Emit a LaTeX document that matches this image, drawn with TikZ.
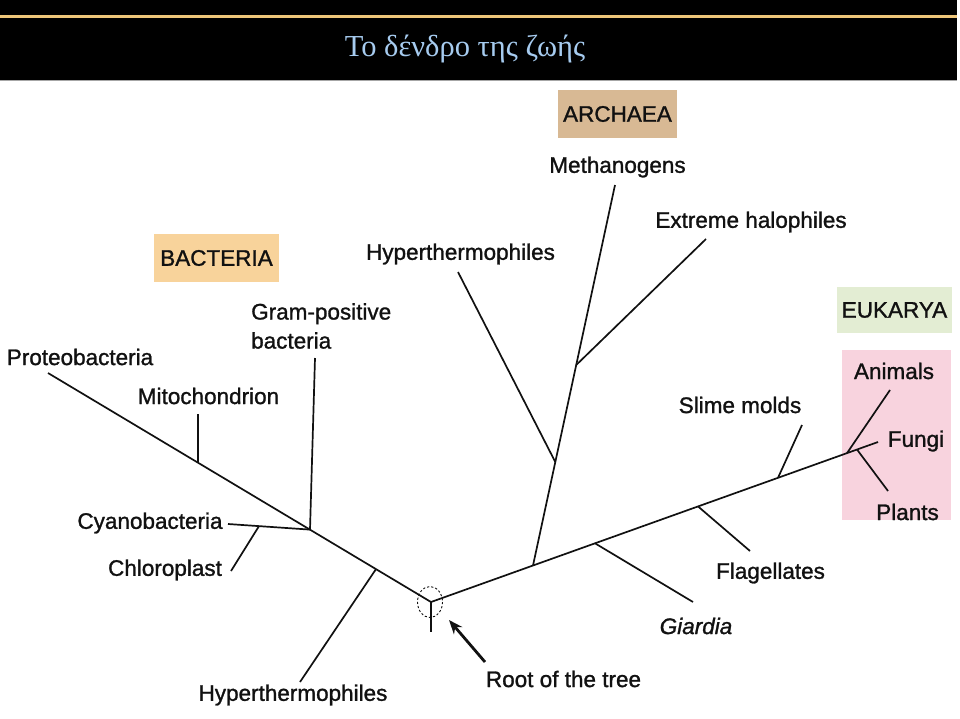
\documentclass[tikz,border=0pt]{standalone}
\usepackage{fontspec}
\setmainfont{Liberation Sans}[FakeBold=1.2]
\newfontfamily\lblfont{Liberation Sans}[FakeBold=1.2]
\newfontfamily\titlefont{Liberation Serif}
\usetikzlibrary{arrows.meta}
\definecolor{goldline}{HTML}{EEC67A}
\definecolor{titleblue}{HTML}{A6CBEF}
\definecolor{bactfill}{HTML}{F8D39B}
\definecolor{archfill}{HTML}{D8B994}
\definecolor{eukfill}{HTML}{E3EDD3}
\definecolor{pinkfill}{HTML}{F8D3DE}
\definecolor{ink}{HTML}{111111}
\tikzset{
  lbl/.style={font=\lblfont\fontsize{22.5}{29}\selectfont, text=ink, inner sep=0pt},
  domainbox/.style={lbl, inner sep=0pt, minimum height=48pt},
  branch/.style={draw=ink, line width=1.7pt},
}
\begin{document}
\begin{tikzpicture}[x=1pt,y=-1pt]
\useasboundingbox (0,0) rectangle (960,718);
% header
\fill[black] (0,0) rectangle (957,80);
\draw[gray!70, line width=1.2pt] (0,80.5) -- (957,80.5);
\draw[goldline, line width=3pt] (0,16) -- (957,16);
\node[font=\titlefont\fontsize{30.5}{34}\selectfont, text=titleblue, inner sep=0pt] (title) at (465,49) {Το δένδρο της ζωής};
% domain boxes
\node[domainbox, fill=bactfill, minimum width=125pt] (bact) at (216.5,258) {BACTERIA};
\node[domainbox, fill=archfill, minimum width=119pt] (arch) at (617.5,114) {ARCHAEA};
\node[domainbox, fill=eukfill, minimum width=115pt, minimum height=46pt] (euk) at (894.5,310) {EUKARYA};
\fill[pinkfill] (842,350) rectangle (951,520);
% coordinates
\coordinate (root) at (431,602);
\coordinate (rootE) at (431,632);
\coordinate (proto) at (48,373);
\coordinate (mitoJ) at (198,462.7);
\coordinate (mitoE) at (198,414);
\coordinate (gramJ) at (310,529.6);
\coordinate (gramE) at (315,358);
\coordinate (cyanoE) at (228,524);
\coordinate (chloroJ) at (259,526.1);
\coordinate (chloroE) at (231,571);
\coordinate (hypBJ) at (376,569.1);
\coordinate (hypBE) at (300,682);
\coordinate (eukEnd) at (878,442);
\coordinate (archJ) at (533,565.5);
\coordinate (methE) at (615,185);
\coordinate (haloJ) at (576.2,365);
\coordinate (haloE) at (706,239);
\coordinate (hypAJ) at (555.3,462);
\coordinate (hypAE) at (458,272);
\coordinate (giaJ) at (595,543.3);
\coordinate (giaE) at (693,602);
\coordinate (flaJ) at (698,506.4);
\coordinate (flaE) at (750,551);
\coordinate (slimeJ) at (778,477.8);
\coordinate (slimeE) at (802,425);
\coordinate (aniJ) at (847,453.1);
\coordinate (aniE) at (890,390);
\coordinate (plaJ) at (857,449.5);
\coordinate (plaE) at (888,491);
\coordinate (arrowTail) at (485,662);
\coordinate (arrowTip) at (449,620);
% tree
\draw[branch] (proto) -- (root) -- (eukEnd);
\draw[branch] (root) -- (rootE);
\draw[branch] (mitoJ) -- (mitoE);
\draw[branch] (gramJ) -- (gramE);
\draw[branch] (gramJ) -- (cyanoE);
\draw[branch] (chloroJ) -- (chloroE);
\draw[branch] (hypBJ) -- (hypBE);
\draw[branch] (archJ) -- (methE);
\draw[branch] (haloJ) -- (haloE);
\draw[branch] (hypAJ) -- (hypAE);
\draw[branch] (giaJ) -- (giaE);
\draw[branch] (flaJ) -- (flaE);
\draw[branch] (slimeJ) -- (slimeE);
\draw[branch] (aniJ) -- (aniE);
\draw[branch] (plaJ) -- (plaE);
% root marker
\draw[ink, line width=0.9pt, dash pattern=on 2.2pt off 2pt] (430,602) ellipse [x radius=12.5, y radius=15.5];
% labels
\node[lbl] (proteo) at (80,357) {Proteobacteria};
\node[lbl] (mito) at (208.5,396) {Mitochondrion};
\node[lbl, anchor=west, align=left] (gram) at (251,326) {Gram-positive\\bacteria};
\node[lbl] (cyano) at (150,523) {Cyanobacteria};
\node[lbl] (chloro) at (165,570) {Chloroplast};
\node[lbl] (hypB) at (293,695) {Hyperthermophiles};
\node[lbl] (rootlbl) at (563.5,679) {Root of the tree};
\node[lbl, font=\lblfont\fontsize{22.5}{29}\selectfont\itshape] (giardia) at (696,626) {Giardia};
\node[lbl] (flag) at (770.5,573) {Flagellates};
\node[lbl] (slime) at (740,405) {Slime molds};
\node[lbl] (animals) at (894,371) {Animals};
\node[lbl] (fungi) at (916,441) {Fungi};
\node[lbl] (plants) at (907.5,512) {Plants};
\node[lbl] (meth) at (617.5,167) {Methanogens};
\node[lbl] (halo) at (751,222) {Extreme halophiles};
\node[lbl] (hypA) at (460.5,254) {Hyperthermophiles};
% arrow to root
\draw[ink, line width=2.8pt, -{Stealth[length=14pt,width=11pt]}] (arrowTail) -- (arrowTip);
\end{tikzpicture}
\end{document}
